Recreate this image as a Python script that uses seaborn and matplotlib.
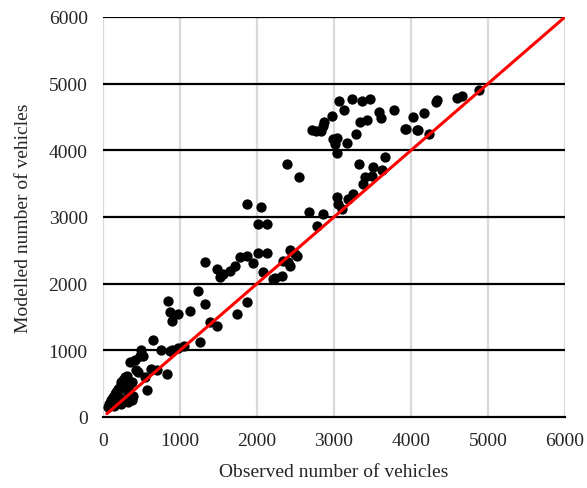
import numpy as np
import pandas as pd
import matplotlib
matplotlib.use("Agg")
import matplotlib.pyplot as plt
import seaborn as sns

#--------------------data-----------------------------------------------------------------------
observed = [
    60, 80, 100, 110, 120, 130, 140, 150, 160, 170, 180, 190, 200, 210, 220, 230, 240, 250,
    265, 280, 290, 300, 310, 320, 330, 340, 350, 360, 370, 380, 395, 410, 430, 460, 480, 490,
    520, 540, 570, 620, 650, 700, 750, 830, 870, 900, 980, 1050,
    850, 870, 890, 980, 1130, 1240, 1260, 1325, 1325, 1390, 1475, 1476, 1520, 1563, 1650,
    1715, 1737, 1780, 1867, 1867, 1867, 1953, 2018, 2052, 2018, 2083, 2126, 2126, 2213,
    2234, 2321, 2343, 2386, 2408, 2430, 2430, 2494, 2516, 2550, 2680, 2784, 2862,
    2710, 2767, 2828, 2855, 2870, 2970, 2992, 3013, 3036, 3040, 3070, 3130, 3165, 3230,
    3287, 3340, 3360, 3425, 3468, 3585, 3607, 3785,
    3036, 3057, 3100, 3187, 3252, 3381, 3403, 3490, 3512, 3330, 3620, 3667,
    3936, 3923, 4031, 4075, 4096, 4170, 4240, 4326, 4340, 4602, 4658, 4884,
]
modelled = [
    150, 200, 230, 260, 200, 300, 170, 350, 320, 380, 260, 420, 400, 300, 450, 200, 520, 480,
    560, 440, 600, 250, 620, 380, 220, 480, 820, 300, 250, 520, 320, 850, 700, 680, 920, 1010,
    920, 600, 400, 720, 1150, 700, 1010, 650, 990, 1000, 1040, 1060,
    1745, 1570, 1445, 1545, 1595, 1895, 1130, 2320, 1700, 1420, 1370, 2220, 2095, 2145, 2195,
    2270, 1550, 2395, 2420, 1725, 3195, 2310, 2460, 3145, 2895, 2170, 2460, 2895, 2070,
    2080, 2120, 2345, 3795, 2320, 2500, 2270, 2445, 2420, 3595, 3080, 2870, 3045,
    4305, 4295, 4285, 4370, 4430, 4520, 4170, 4095, 3960, 4185, 4745, 4605, 4110, 4770,
    4245, 4420, 4745, 4460, 4770, 4570, 4480, 4610,
    3295, 3195, 3120, 3270, 3345, 3500, 3600, 3620, 3745, 3795, 3700, 3895,
    4320, 4320, 4495, 4310, 4305, 4560, 4245, 4730, 4760, 4780, 4820, 4905,
]
line_x = [50, 6000]
line_y = [50, 6000]
ticks = [0, 1000, 2000, 3000, 4000, 5000, 6000]

df = pd.DataFrame({"observed": observed, "modelled": modelled})

#--------------------plot-----------------------------------------------------------------------
sns.set_style("white")
plt.rcParams["font.family"] = ["Liberation Serif", "DejaVu Serif"]

fig = plt.figure(figsize=(5.87, 4.89), dpi=100)
ax = fig.add_axes([0.1755, 0.1452, 0.787, 0.818])

# grid: grey verticals, black horizontals
for t in ticks:
    ax.axvline(t, color="#d9d9d9", lw=1.6, zorder=0)
for t in ticks[1:]:
    ax.axhline(t, color="black", lw=1.6, zorder=1)

sns.scatterplot(data=df, x="observed", y="modelled", color="black", s=55,
                edgecolor="black", linewidth=0, ax=ax, zorder=3)
sns.lineplot(x=line_x, y=line_y, color="red", lw=2.2, ax=ax, zorder=4)

ax.set_xlim(0, 6000)
ax.set_ylim(0, 6000)
ax.set_xticks(ticks)
ax.set_yticks(ticks)
ax.tick_params(length=0, labelsize=14, pad=11)
for s in ["top", "right", "left"]:
    ax.spines[s].set_visible(False)
ax.spines["bottom"].set_color("black")
ax.spines["bottom"].set_linewidth(1.6)
ax.spines["bottom"].set_zorder(2)

ax.set_xlabel("Observed number of vehicles", fontsize=14, labelpad=10)
ax.set_ylabel("Modelled number of vehicles", fontsize=14, labelpad=12)

fig.savefig("out.png", dpi=100)
